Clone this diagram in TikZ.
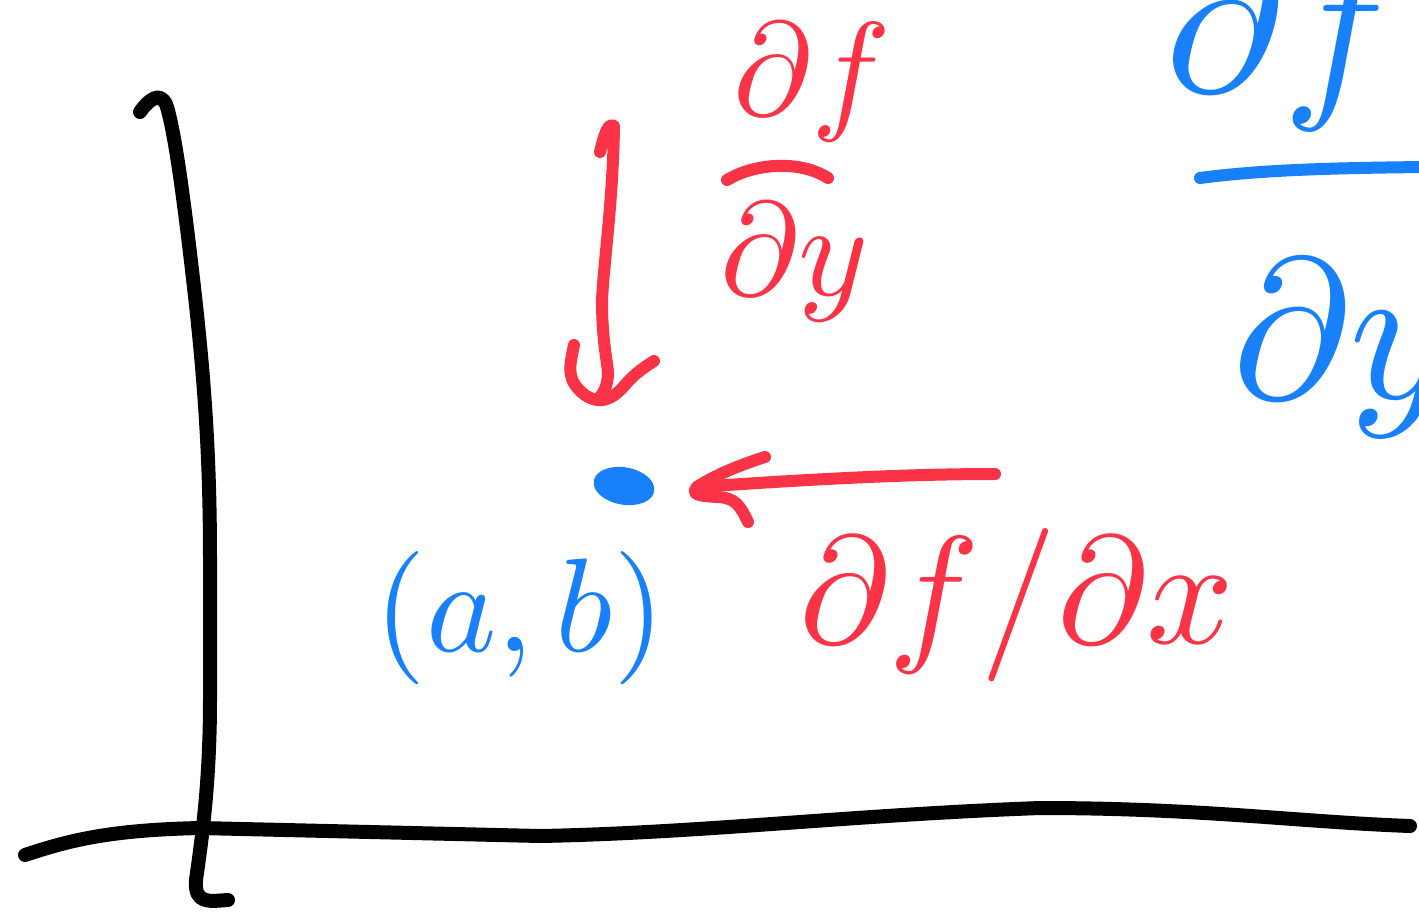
\documentclass[tikz,border=0pt]{standalone}
\usetikzlibrary{shapes.geometric}
\definecolor{pred}{RGB}{250,52,70}
\definecolor{pblue}{RGB}{24,128,250}
\newcommand{\bigtxt}[2]{\scalebox{#1}{#2}}
\begin{document}
\begin{tikzpicture}[x=0.75pt,y=-0.75pt,line cap=round,line join=round]
\tikzset{
  axisline/.style={line width=10.5pt,black},
  redink/.style={line width=9pt,pred},
  blueink/.style={line width=9pt,pblue},
  redtxt/.style={text=pred,inner sep=0pt},
  bluetxt/.style={text=pblue,inner sep=0pt}
}
\useasboundingbox (0,0) rectangle (1419,913);
\clip (0,0) rectangle (1419,913);
\fill[white] (0,0) rectangle (1419,913);

% axes
\draw[axisline] (140,112) .. controls (150,98) and (160,92) .. (166,104)
  .. controls (175,130) and (185,210) .. (192,270)
  .. controls (205,380) and (210,460) .. (210,560) -- (210,700)
  .. controls (210,790) and (200,850) .. (196,880)
  .. controls (194,905) and (210,901) .. (228,900);
\draw[axisline] (25,855) .. controls (70,840) and (110,830) .. (200,828) -- (540,836)
  .. controls (700,833) and (850,815) .. (1040,808)
  .. controls (1200,808) and (1300,822) .. (1410,826);

% point
\node[ellipse,fill=pblue,minimum width=46pt,minimum height=28pt,inner sep=0pt,rotate=-10] (pt) at (624,486) {};

% down arrow
\coordinate (downtail) at (600,152);
\coordinate (downtip) at (600,397);
\draw[redink] (downtail) .. controls (604,135) and (608,122) .. (614,126)
  .. controls (613,200) and (604,260) .. (602,300)
  .. controls (602,340) and (607,360) .. (608,372)
  .. controls (608,385) and (604,392) .. (downtip);
\draw[redink] (574,345) .. controls (570,365) and (565,380) .. (585,395)
  .. controls (600,405) and (612,400) .. (625,385)
  .. controls (635,373) and (645,367) .. (654,361);

% left arrow
\coordinate (lefttail) at (995,474);
\coordinate (lefttip) at (697,487);
\draw[redink] (lefttail) .. controls (900,474) and (800,480) .. (lefttip);
\draw[redink] (765,457) .. controls (740,465) and (715,475) .. (697,487)
  .. controls (690,495) and (700,496) .. (718,497)
  .. controls (735,498) and (740,505) .. (748,522);

% df/dy (red)
\node[redtxt] (dfy) at (812,82) {\bigtxt{10}{$\partial f$}};
\draw[redink] (727,180) .. controls (755,163) and (800,160) .. (828,178);
\node[redtxt] (dyy) at (795,262) {\bigtxt{10}{$\partial y$}};

% (a,b)
\node[bluetxt] (ab) at (520,618) {\bigtxt{10}{$(a,b)$}};

% df/dx
\node[redtxt] (dfx) at (1017,605) {\bigtxt{11.5}{$\partial f/\partial x$}};

% blue fraction at right edge
\node[bluetxt,anchor=base west] (bdf) at (1165,92) {\bigtxt{15}{$\partial f$}};
\draw[blueink] (1200,178) .. controls (1260,170) and (1330,168) .. (1425,167);
\node[bluetxt,anchor=base west] (bdy) at (1232,398) {\bigtxt{15}{$\partial y$}};
\end{tikzpicture}
\end{document}
